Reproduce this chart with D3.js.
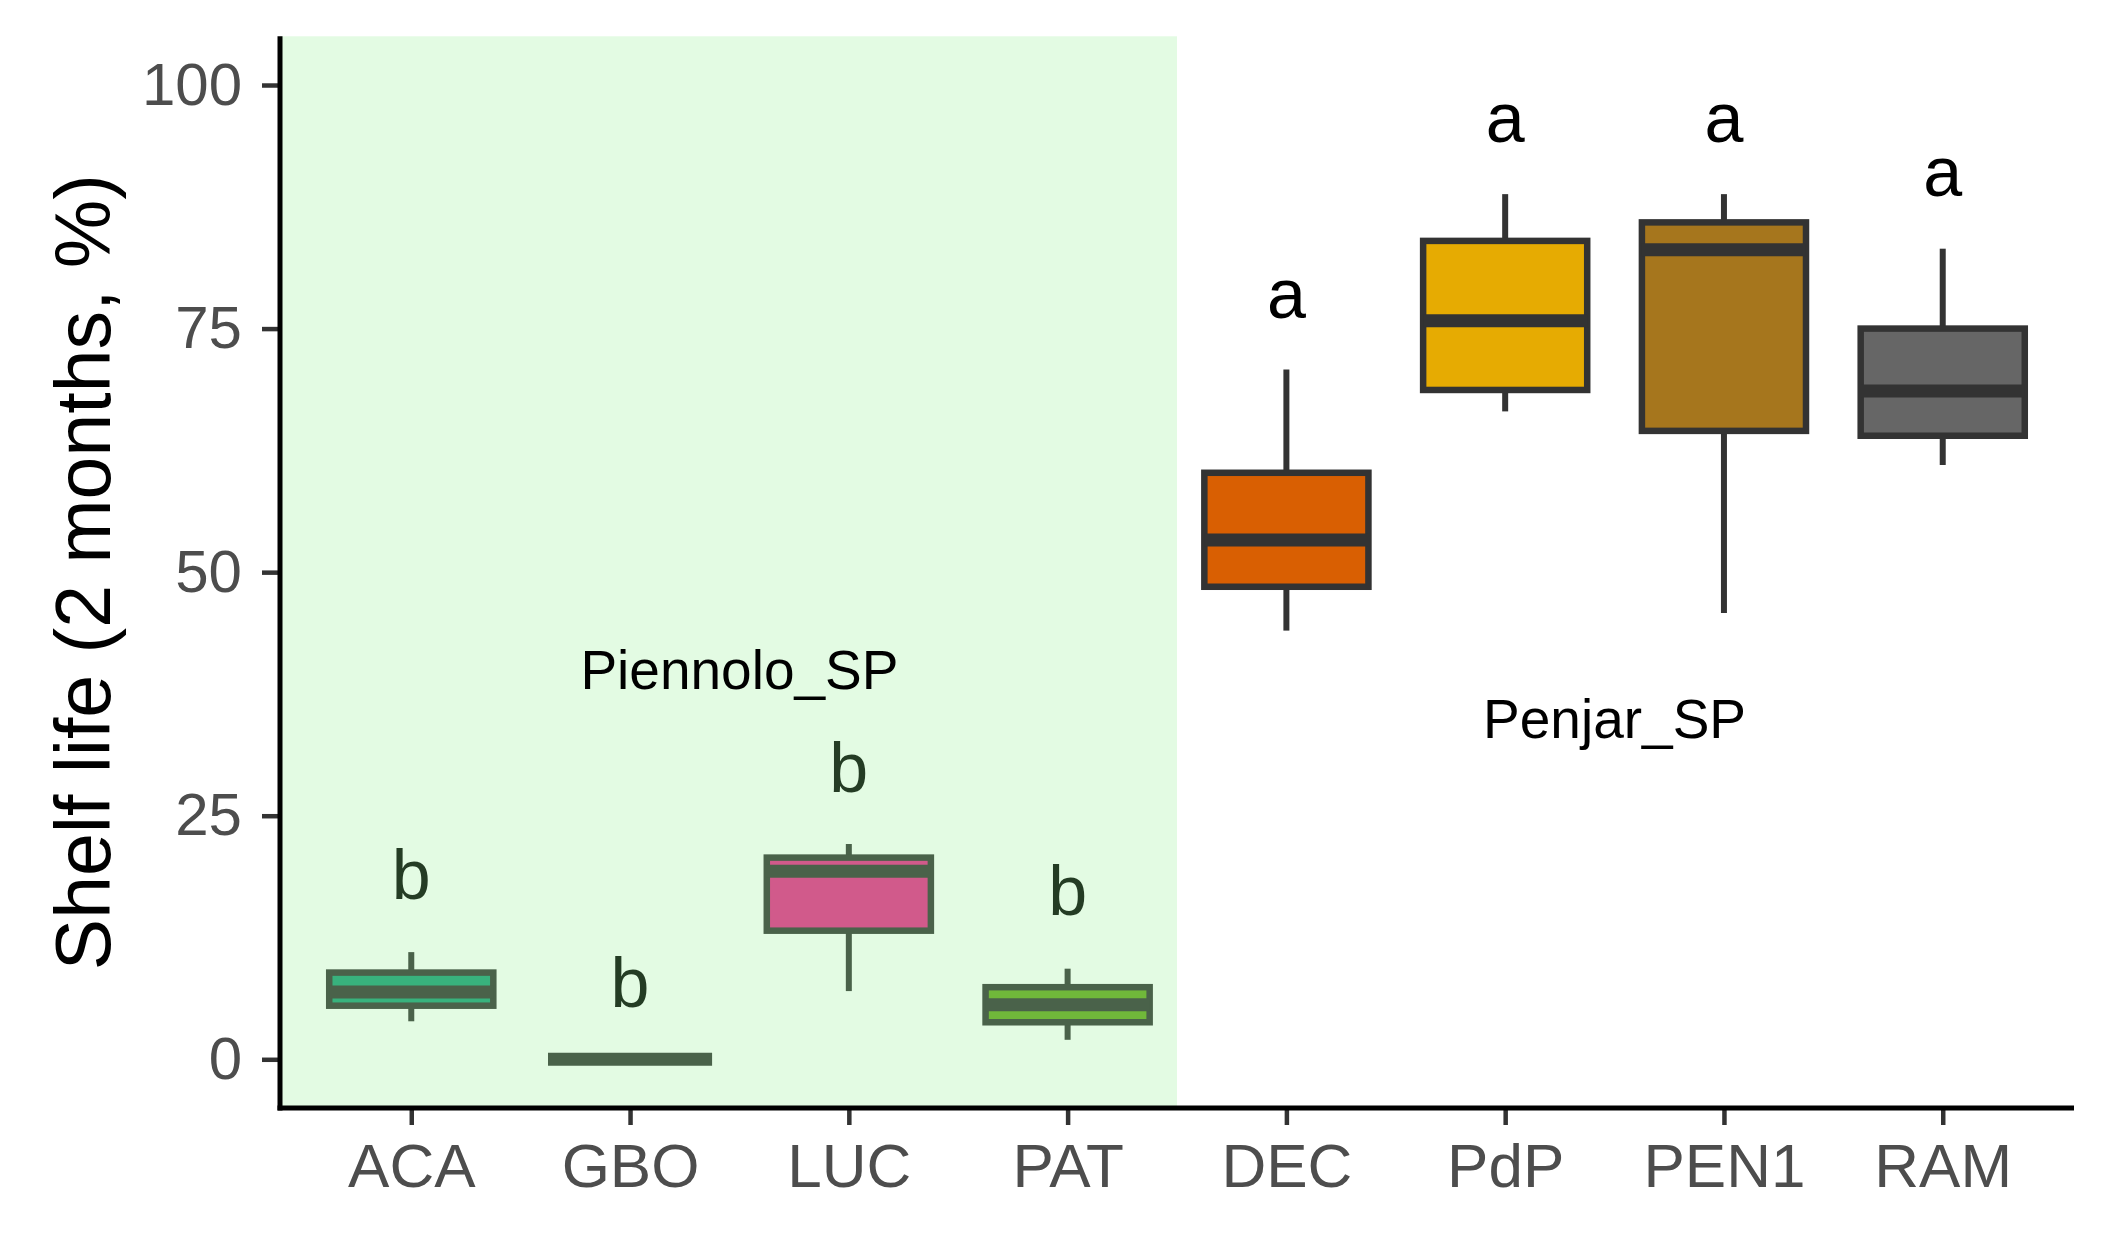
<!DOCTYPE html>
<html><head><meta charset="utf-8">
<script src="https://cdn.jsdelivr.net/npm/d3@7"></script>
<style>body{margin:0;background:#fff}</style>
</head><body><svg id="c" width="2107" height="1260"></svg>
<script>
const categories = ["ACA","GBO","LUC","PAT","DEC","PdP","PEN1","RAM"];
const fillColors = ["#1B9E77","#7570B3","#E7298A","#66A61E","#D95F02","#E6AB02","#A6761D","#666666"];
const whiskerLow  = [3.9, 0, 7.0, 2.0, 44.0, 66.5, 45.8, 61.0];
const q1          = [5.5, 0, 13.2, 3.8, 48.5, 68.7, 64.5, 64.0];
const median      = [6.9, 0, 19.3, 5.6, 53.3, 75.8, 83.1, 68.6];
const q3          = [8.9, 0, 20.7, 7.4, 60.2, 84.0, 85.9, 75.0];
const whiskerHigh = [11.0, 0, 22.1, 9.3, 70.8, 88.8, 88.8, 83.2];
const letters = ["b","b","b","b","a","a","a","a"];
const letterY = [19.0, 7.9, 30.0, 17.3, 78.6, 96.7, 96.7, 91.1];
const groupLabels = ["Piennolo_SP","Penjar_SP"];
const groupAfter = ["GBO","PdP"];      // label sits between this category and the next
const groupLabelY = [40, 35];
const shadedUntil = "PAT";             // shaded region ends half a step after this category
const yTicks = [0,25,50,75,100];
const yTitle = "Shelf life (2 months, %)";

(function(){
const svg = d3.select("#c");
const FONT = "'Liberation Sans', Arial, Helvetica, sans-serif";
const pLeft = 280, pRight = 2074, pTop = 36.3, pBottom = 1108;

const x = d3.scalePoint().domain(categories).range([pLeft, pRight]).padding(0.6);
const y = d3.scaleLinear().domain([-5, 105]).range([pBottom, pTop]);
const step = x.step();
const bw = step * 0.75;

const data = categories.map((c,i)=>({c, fill:fillColors[i], lo:whiskerLow[i], q1:q1[i], med:median[i], q3:q3[i], hi:whiskerHigh[i], lab:letters[i], ly:letterY[i]}));

const g = svg.append("g");
const boxes = g.selectAll("g.box").data(data).join("g").attr("class","box");
boxes.append("line").attr("x1",d=>x(d.c)).attr("x2",d=>x(d.c)).attr("y1",d=>y(d.hi)).attr("y2",d=>y(d.q3))
  .attr("stroke","#333333").attr("stroke-width",6);
boxes.append("line").attr("x1",d=>x(d.c)).attr("x2",d=>x(d.c)).attr("y1",d=>y(d.q1)).attr("y2",d=>y(d.lo))
  .attr("stroke","#333333").attr("stroke-width",6);
boxes.append("rect").attr("x",d=>x(d.c)-bw/2).attr("width",bw)
  .attr("y",d=>y(d.q3)).attr("height",d=>y(d.q1)-y(d.q3))
  .attr("fill",d=>d.fill).attr("stroke","#333333").attr("stroke-width",6.5);
boxes.append("line").attr("x1",d=>x(d.c)-bw/2).attr("x2",d=>x(d.c)+bw/2).attr("y1",d=>y(d.med)).attr("y2",d=>y(d.med))
  .attr("stroke","#333333").attr("stroke-width",13);
g.selectAll("text.let").data(data).join("text").attr("class","let")
  .attr("x",d=>x(d.c)).attr("y",d=>y(d.ly)).attr("dy","0.35em")
  .attr("text-anchor","middle").attr("font-family",FONT).attr("font-size",70).attr("fill","#000")
  .text(d=>d.lab);

// translucent shaded region on top
svg.append("rect").attr("x",pLeft).attr("y",pTop)
  .attr("width",x(shadedUntil)+step/2-pLeft).attr("height",pBottom-pTop)
  .attr("fill","#90EE90").attr("fill-opacity",0.25);

// group labels
svg.selectAll("text.grp").data(groupLabels).join("text").attr("class","grp")
  .attr("x",(d,i)=>x(groupAfter[i])+step/2).attr("y",(d,i)=>y(groupLabelY[i])).attr("dy","0.35em")
  .attr("text-anchor","middle").attr("font-family",FONT).attr("font-size",55).attr("fill","#000")
  .text(d=>d);

// axes
const ya = svg.append("g").attr("transform",`translate(${pLeft},0)`)
  .call(d3.axisLeft(y).tickValues(yTicks).tickSize(18).tickPadding(20));
ya.select(".domain").remove();
ya.selectAll(".tick line").attr("stroke","#333333").attr("stroke-width",4.5);
ya.selectAll(".tick text").attr("font-family",FONT).attr("font-size",60).attr("fill","#4D4D4D");

const xa = svg.append("g").attr("transform",`translate(0,${pBottom})`)
  .call(d3.axisBottom(x).tickSize(17).tickPadding(18));
xa.select(".domain").remove();
xa.selectAll(".tick line").attr("stroke","#333333").attr("stroke-width",4.5);
xa.selectAll(".tick text").attr("font-family",FONT).attr("font-size",62).attr("fill","#4D4D4D").attr("dy","0.71em");

svg.append("line").attr("x1",pLeft).attr("x2",pLeft).attr("y1",pTop).attr("y2",pBottom+2.5)
  .attr("stroke","#000").attr("stroke-width",5);
svg.append("line").attr("x1",pLeft-2.5).attr("x2",pRight).attr("y1",pBottom).attr("y2",pBottom)
  .attr("stroke","#000").attr("stroke-width",5);

svg.append("text").attr("transform",`translate(83,${(pTop+pBottom)/2}) rotate(-90)`)
  .attr("dy","0.35em").attr("text-anchor","middle").attr("font-family",FONT).attr("font-size",77).attr("fill","#000")
  .text(yTitle);
})();
</script></body></html>
